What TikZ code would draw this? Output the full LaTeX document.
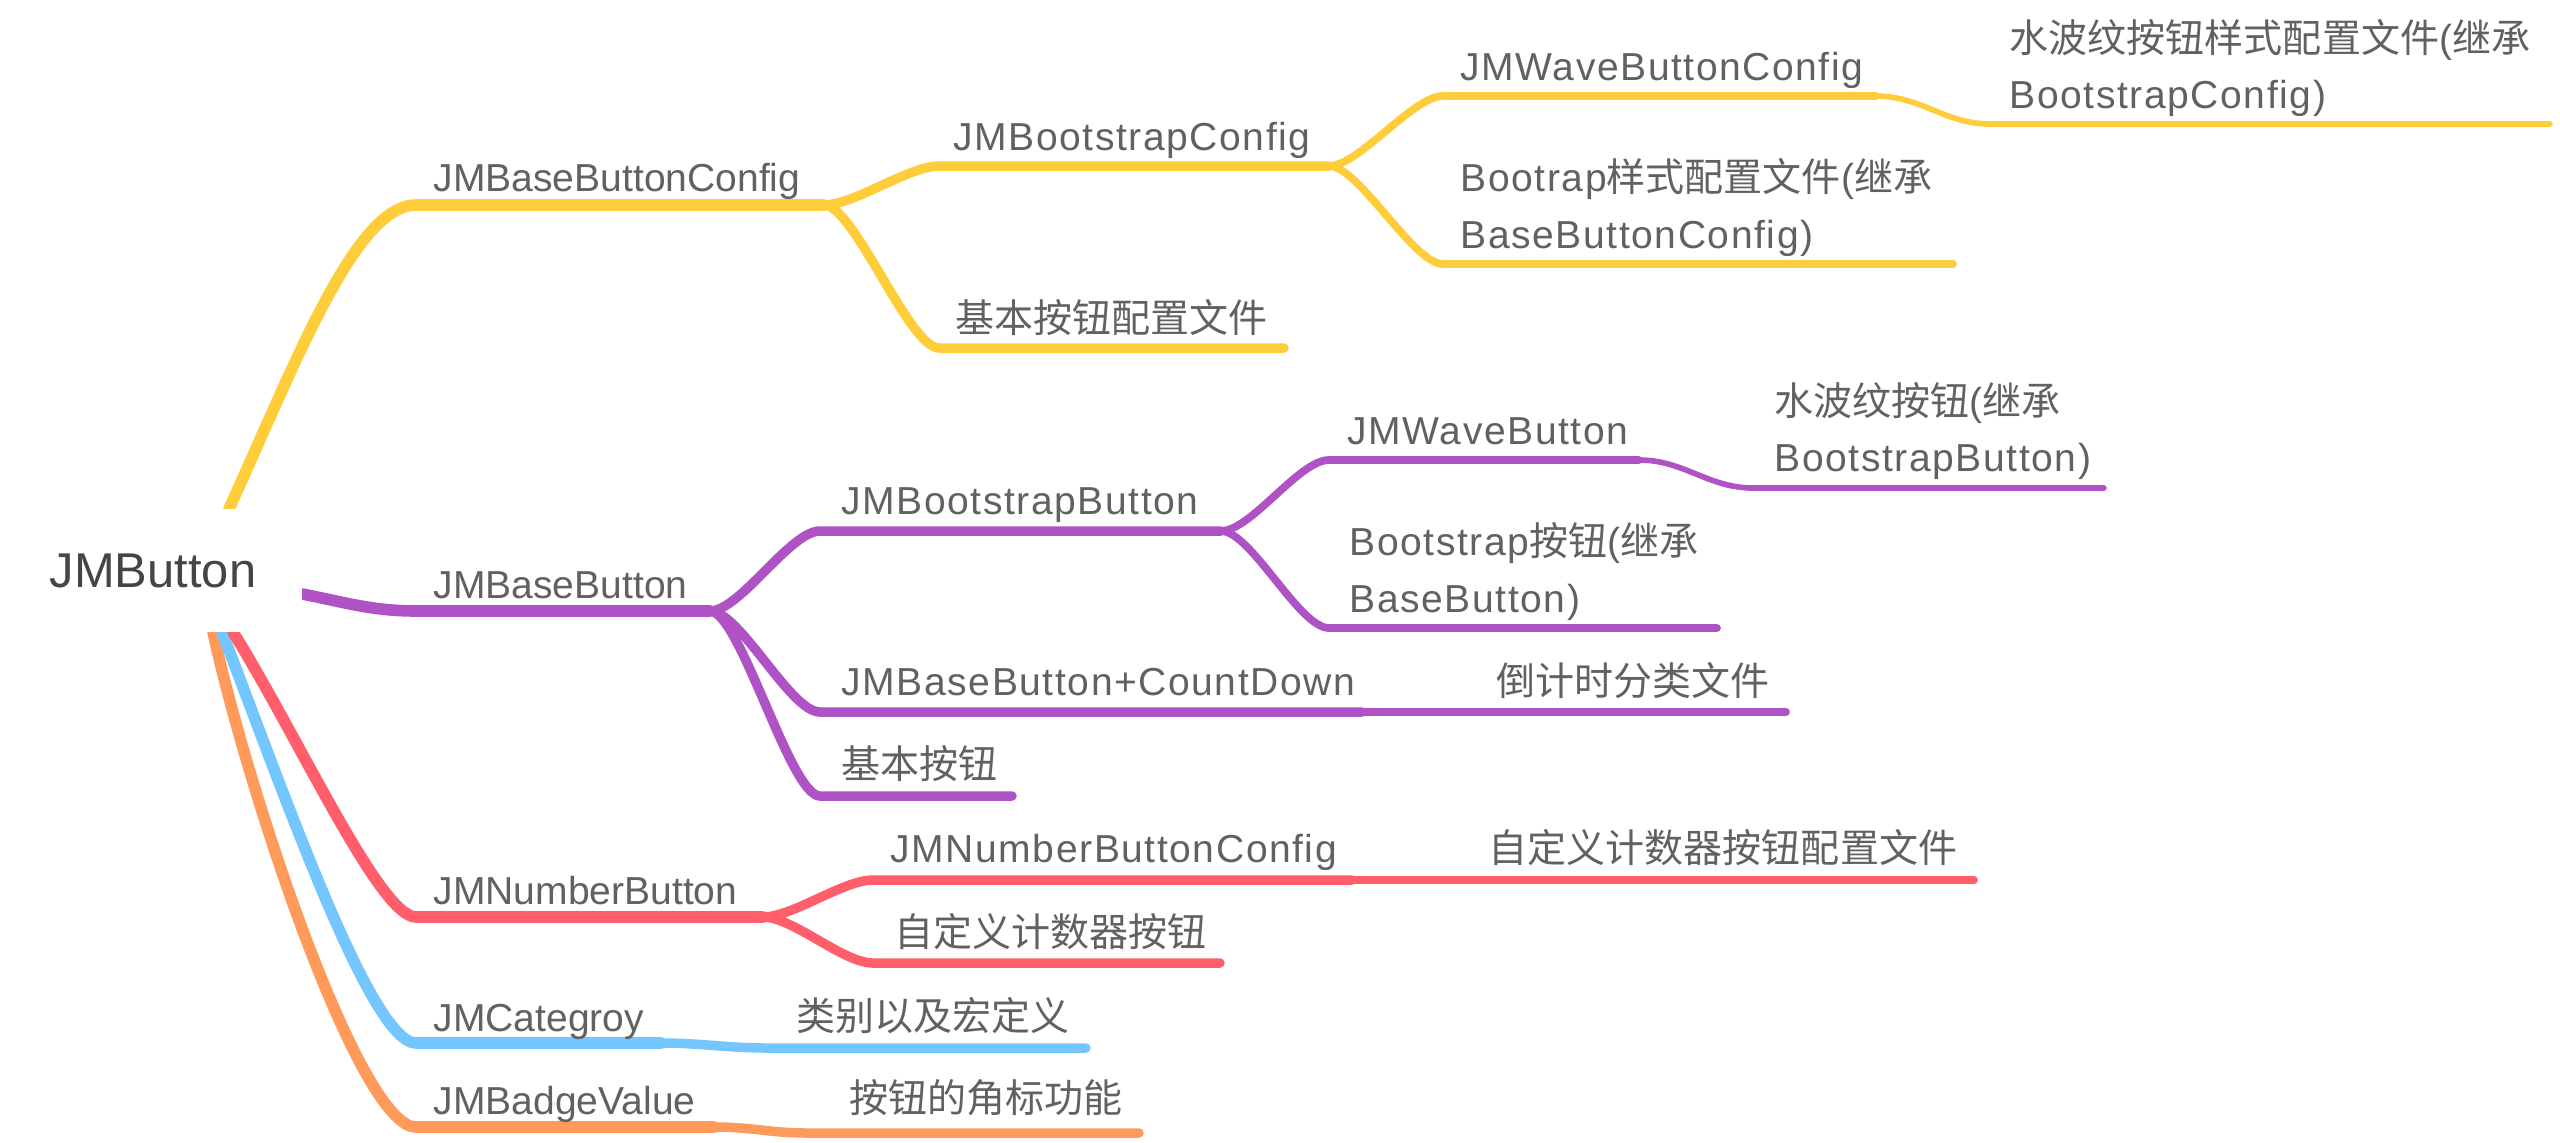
\documentclass[tikz,border=0pt]{standalone}
\usepackage{fontspec}
\setmainfont{Liberation Sans}
\newfontfamily\subfont{Liberation Sans}[LetterSpace=4]
\newfontfamily\cjk{Noto Sans CJK SC}
\definecolor{cy}{HTML}{FFCC3A}
\definecolor{cp}{HTML}{AF52C6}
\definecolor{cr}{HTML}{FF5E6A}
\definecolor{cb}{HTML}{74C7FE}
\definecolor{co}{HTML}{FF9A5A}
\definecolor{txt}{HTML}{616161}
\definecolor{roottxt}{HTML}{454545}
\begin{document}
\begin{tikzpicture}[x=0.01cm,y=-0.01cm,
  conn/.style={line cap=round, line join=round},
  lwa/.style={conn, line width=3.3pt},
  lwb/.style={conn, line width=2.7pt},
  lwc/.style={conn, line width=2.2pt},
  lwd/.style={conn, line width=1.6pt},
  lbl/.style={font=\fontsize{11.1}{13}\selectfont, text=txt, inner sep=0pt, anchor=base west},
  sublbl/.style={font={\fontsize{11.1}{13}\selectfont\subfont}, text=txt, inner sep=0pt, anchor=base west},
  rootlbl/.style={font=\fontsize{13.9}{16}\selectfont, text=roottxt, fill=white, inner sep=0pt, minimum width=2.98cm, minimum height=1.23cm},
]
\path[use as bounding box] (0,0) rectangle (2560,1142);

% ---------- coordinates ----------
% yellow
\coordinate (y0) at (229,509);
\coordinate (ya) at (416,205);  \coordinate (yae) at (824,205);
\coordinate (yb) at (939,166);  \coordinate (ybe) at (1329,166);
\coordinate (yc) at (939,348);  \coordinate (yce) at (1284,348);
\coordinate (yd) at (1443,96);  \coordinate (yde) at (1876,96);
\coordinate (yf) at (1990,124); \coordinate (yfe) at (2550,124);
\coordinate (yg) at (1443,264); \coordinate (yge) at (1953,264);
% purple
\coordinate (p0) at (302,594);
\coordinate (pa) at (416,611);  \coordinate (pae) at (710,611);
\coordinate (pb) at (820,531);  \coordinate (pbe) at (1221,531);
\coordinate (pc) at (820,712);  \coordinate (pce) at (1362,712);
\coordinate (pcf) at (1786,712);
\coordinate (pd) at (820,796);  \coordinate (pde) at (1012,796);
\coordinate (pw) at (1329,460); \coordinate (pwe) at (1639,460);
\coordinate (px) at (1753,488); \coordinate (pxe) at (2104,488);
\coordinate (pv) at (1329,628); \coordinate (pve) at (1717,628);
% red
\coordinate (r0) at (233,632);
\coordinate (ra) at (416,917);  \coordinate (rae) at (763,917);
\coordinate (rb) at (873,880);  \coordinate (rbe) at (1352,880);
\coordinate (rbf) at (1974,880);
\coordinate (rc) at (873,963);  \coordinate (rce) at (1220,963);
% blue
\coordinate (b0) at (222,632);
\coordinate (ba) at (416,1043); \coordinate (bae) at (661,1043);
\coordinate (bb) at (767,1048); \coordinate (bbe) at (1086,1048);
% orange
\coordinate (o0) at (213,632);
\coordinate (oa) at (416,1127); \coordinate (oae) at (714,1127);
\coordinate (ob) at (808,1133); \coordinate (obe) at (1139,1133);

% ---------- connectors ----------
% yellow
\draw[cy, lwa] (y0) .. controls (297,359) and (356,205) .. (ya) -- (yae);
\draw[cy, lwb] (yae) .. controls +(30,0) and +(-30,0) .. (yb) -- (ybe);
\draw[cy, lwb] (yae) .. controls +(30,0) and +(-30,0) .. (yc) -- (yce);
\draw[cy, lwc] (ybe) .. controls +(30,0) and +(-30,0) .. (yd) -- (yde);
\draw[cy, lwc] (ybe) .. controls +(30,0) and +(-30,0) .. (yg) -- (yge);
\draw[cy, lwd] (yde) .. controls +(45,0) and +(-45,0) .. (yf) -- (yfe);
% purple
\draw[cp, lwa] (p0) .. controls (340,601) and (370,611) .. (pa) -- (pae);
\draw[cp, lwb] (pae) .. controls +(30,0) and +(-30,0) .. (pb) -- (pbe);
\draw[cp, lwb] (pae) .. controls +(30,0) and +(-30,0) .. (pc) -- (pce);
\draw[cp, lwc] (pce) -- (pcf);
\draw[cp, lwb] (pae) .. controls +(30,0) and +(-30,0) .. (pd) -- (pde);
\draw[cp, lwc] (pbe) .. controls +(30,0) and +(-30,0) .. (pw) -- (pwe);
\draw[cp, lwc] (pbe) .. controls +(30,0) and +(-30,0) .. (pv) -- (pve);
\draw[cp, lwd] (pwe) .. controls +(45,0) and +(-45,0) .. (px) -- (pxe);
% orange
\draw[co, lwa] (o0) .. controls (250,800) and (360,1127) .. (oa) -- (oae);
\draw[co, lwb] (oae) .. controls +(40,0) and +(-40,0) .. (ob) -- (obe);
% blue
\draw[cb, lwa] (b0) .. controls (280,782) and (370,1043) .. (ba) -- (bae);
\draw[cb, lwb] (bae) .. controls +(40,0) and +(-40,0) .. (bb) -- (bbe);
% red
\draw[cr, lwa] (r0) .. controls (300,740) and (380,917) .. (ra) -- (rae);
\draw[cr, lwb] (rae) .. controls +(30,0) and +(-30,0) .. (rb) -- (rbe);
\draw[cr, lwc] (rbe) -- (rbf);
\draw[cr, lwb] (rae) .. controls +(30,0) and +(-30,0) .. (rc) -- (rce);

% ---------- root ----------
\node[rootlbl] (root) at (153,570.5) {JMButton};

% ---------- labels ----------
\node[lbl] (n1) at (433,191) {JMBaseButtonConfig};
\node[sublbl] (n2) at (953,150) {JMBootstrapConfig};
\node[sublbl] (n3) at (955,332) {\cjk 基本按钮配置文件};
\node[sublbl] (n4) at (1460,80) {JMWaveButtonConfig};
\node[sublbl] (n5a) at (2009,52) {{\cjk 水波纹按钮样式配置文件}({\cjk 继承}};
\node[sublbl] (n5b) at (2009,108) {BootstrapConfig)};
\node[sublbl] (n6a) at (1460,191) {Bootrap{\cjk 样式配置文件}({\cjk 继承}};
\node[sublbl] (n6b) at (1460,248) {BaseButtonConfig)};

\node[lbl] (m1) at (433,598) {JMBaseButton};
\node[sublbl] (m2) at (841,514) {JMBootstrapButton};
\node[sublbl] (m3) at (1347,444) {JMWaveButton};
\node[sublbl] (m4a) at (1774,415) {{\cjk 水波纹按钮}({\cjk 继承}};
\node[sublbl] (m4b) at (1774,471) {BootstrapButton)};
\node[sublbl] (m5a) at (1349,555) {Bootstrap{\cjk 按钮}({\cjk 继承}};
\node[sublbl] (m5b) at (1349,612) {BaseButton)};
\node[sublbl] (m6) at (841,695) {JMBaseButton+CountDown};
\node[sublbl] (m7) at (1496,695) {\cjk 倒计时分类文件};
\node[sublbl] (m8) at (841,778) {\cjk 基本按钮};

\node[lbl] (k1) at (433,904) {JMNumberButton};
\node[sublbl] (k2) at (890,862) {JMNumberButtonConfig};
\node[sublbl] (k3) at (1488,862) {\cjk 自定义计数器按钮配置文件};
\node[sublbl] (k4) at (894,946) {\cjk 自定义计数器按钮};

\node[lbl] (c1) at (433,1031) {JMCategroy};
\node[sublbl] (c2) at (796,1030) {\cjk 类别以及宏定义};

\node[lbl] (g1) at (433,1114) {JMBadgeValue};
\node[sublbl] (g2) at (849,1112) {\cjk 按钮的角标功能};
\end{tikzpicture}
\end{document}
